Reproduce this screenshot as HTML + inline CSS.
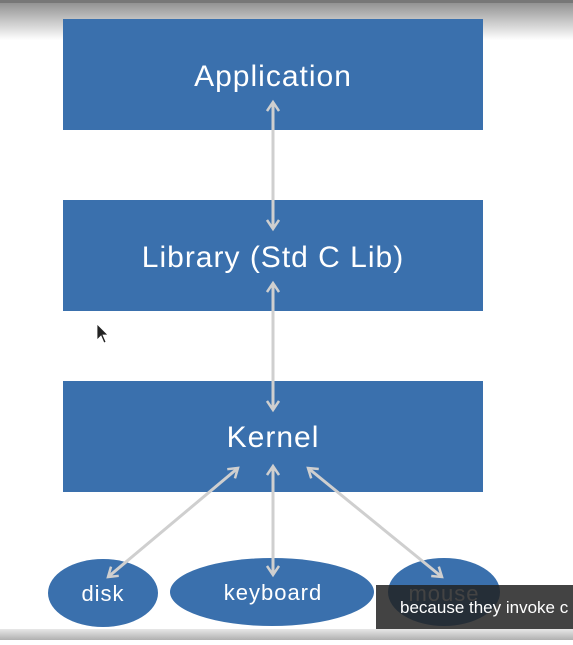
<!DOCTYPE html><html><head><style>
body{margin:0;width:573px;height:640px;overflow:hidden;background:#fff;font-family:"Liberation Sans",sans-serif}
</style></head><body>
<svg width="573" height="640" viewBox="0 0 573 640" xmlns="http://www.w3.org/2000/svg">
<defs>
<linearGradient id="top" x1="0" y1="0" x2="0" y2="1"><stop offset="0" stop-color="#8a8a8a"/><stop offset="1" stop-color="#ffffff"/></linearGradient>
<linearGradient id="bot" x1="0" y1="0" x2="0" y2="1"><stop offset="0" stop-color="#e8e8e8"/><stop offset="1" stop-color="#b0b0b0"/></linearGradient>
<marker id="a" markerWidth="14" markerHeight="14" refX="10" refY="7" orient="auto-start-reverse" markerUnits="userSpaceOnUse"><path d="M1,1 L10,7 L1,13" fill="none" stroke="#cfcfcf" stroke-width="2.5"/></marker>
</defs>
<rect x="0" y="0" width="573" height="40" fill="url(#top)"/>
<rect x="0" y="0" width="573" height="3" fill="#777"/>
<g fill="#3a70ad">
<rect x="63" y="19" width="420" height="111"/>
<rect x="63" y="200" width="420" height="111"/>
<rect x="63" y="381" width="420" height="111"/>
<ellipse cx="103" cy="593" rx="55" ry="34"/>
<ellipse cx="272" cy="592" rx="102" ry="34"/>
<ellipse cx="444" cy="592" rx="56" ry="34"/>
</g>
<g fill="#fff" text-anchor="middle" font-size="30" letter-spacing="1">
<text x="273" y="86">Application</text>
<text x="273" y="267">Library (Std C Lib)</text>
<text x="273" y="447">Kernel</text>
<text x="103" y="601" font-size="22">disk</text>
<text x="273" y="600" font-size="22">keyboard</text>
<text x="444" y="601" font-size="22">mouse</text>
</g>
<g stroke="#cfcfcf" stroke-width="3" fill="none">
<line x1="273" y1="102" x2="273" y2="229" marker-start="url(#a)" marker-end="url(#a)"/>
<line x1="273" y1="283" x2="273" y2="410" marker-start="url(#a)" marker-end="url(#a)"/>
<line x1="238" y1="468" x2="108" y2="577" marker-start="url(#a)" marker-end="url(#a)"/>
<line x1="273" y1="466" x2="273" y2="575" marker-start="url(#a)" marker-end="url(#a)"/>
<line x1="308" y1="468" x2="442" y2="577" marker-start="url(#a)" marker-end="url(#a)"/>
</g>
<path d="M97,324 L97,340 L101,336 L104,343 L106,342 L103,335 L108,335 Z" fill="#222" stroke="#fff" stroke-width="0.8"/>
<rect x="376" y="585" width="197" height="44" fill="#222" fill-opacity="0.85"/>
<text x="400" y="613" fill="#fff" font-size="17">because they invoke c</text>
<rect x="0" y="629" width="573" height="11" fill="url(#bot)"/>
</svg>
</body></html>
